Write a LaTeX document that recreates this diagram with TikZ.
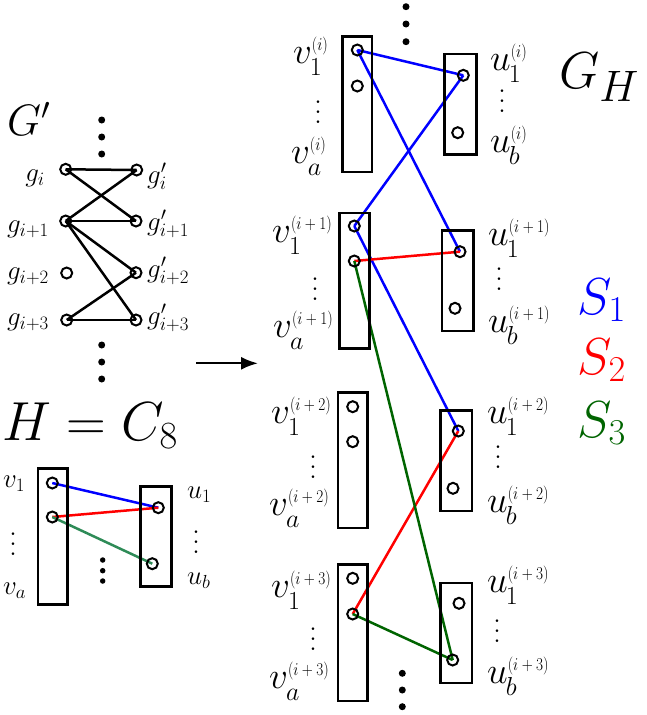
\RequirePackage{fix-cm}
\documentclass[tikz,border=0pt]{standalone}
\usepackage{graphicx}
\usetikzlibrary{arrows.meta}
\definecolor{sblue}{RGB}{0,0,255}
\definecolor{sred}{RGB}{255,0,0}
\definecolor{sgreen}{RGB}{0,100,0}
\definecolor{hgreen}{RGB}{46,139,87}
\newcommand\fs[1]{\fontsize{#1}{#1}\selectfont}
% label: letter, subscript, superscript index
\newcommand\glab[3]{$#1$\kern-2pt\rlap{\raisebox{-12pt}{\fs{26}$#2$}}\kern2pt\raisebox{13pt}{\scalebox{0.85}[1]{\fs{18}$(#3)$}}}
\newcommand\vdd{\scalebox{2.5}{\fs{10}$\vdots$}}
\pgfdeclarelayer{bg}
\pgfsetlayers{bg,main}
\tikzset{
  vtx/.style={circle, draw, line width=2pt, minimum size=11pt, inner sep=0pt, outer sep=0pt},
  bx/.style={draw, line width=2.6pt},
  ed/.style={line width=2.5pt},
  bigdot/.style={circle, fill, inner sep=0pt, minimum size=7pt},
  smalldot/.style={circle, fill, inner sep=0pt, minimum size=5.5pt},
  lblL/.style={anchor=base east, inner sep=0pt, font=\fs{37}},
  lblR/.style={anchor=base west, inner sep=0pt, font=\fs{37}},
  glL/.style={anchor=base east, inner sep=0pt, font=\fs{27}},
  glR/.style={anchor=base west, inner sep=0pt, font=\fs{27}},
  hl/.style={anchor=base west, inner sep=0pt, font=\fs{27}},
  vd/.style={anchor=south, inner sep=0pt},
}
\begin{document}
\begin{tikzpicture}[x=1pt,y=-1pt]
\useasboundingbox (0,0) rectangle (647,715);

% ---------- G' ----------
\node[anchor=base west, inner sep=0pt, font=\fs{44}] (Gp) at (7,135) {$G'$};
\node[bigdot] (gd1) at (101.7,120) {};
\node[bigdot] (gd2) at (101.7,137) {};
\node[bigdot] (gd3) at (101.7,154) {};
\node[bigdot] (gd4) at (101.7,345) {};
\node[bigdot] (gd5) at (101.7,362) {};
\node[bigdot] (gd6) at (101.7,379) {};

\node[vtx] (g0) at (65.7,169.3) {};
\node[vtx] (g1) at (65.7,221) {};
\node[vtx] (g2) at (66.7,273) {};
\node[vtx] (g3) at (66.7,320) {};
\node[vtx] (p0) at (136.7,170) {};
\node[vtx] (p1) at (136,221) {};
\node[vtx] (p2) at (136,272.7) {};
\node[vtx] (p3) at (136,320) {};
\begin{pgfonlayer}{bg}
\draw[ed] (g0.center) -- (p0.center);
\draw[ed] (g0.center) -- (p1.center);
\draw[ed] (g1.center) -- (p0.center);
\draw[ed] (g1.center) -- (p1.center);
\draw[ed] (g1.center) -- (p2.center);
\draw[ed] (g1.center) -- (p3.center);
\draw[ed] (g3.center) -- (p2.center);
\draw[ed] (g3.center) -- (p3.center);
\end{pgfonlayer}
\node[glL] (lg0) at (45,181) {$g_i$};
\node[glL] (lg1) at (49,232) {$g_{i+1}$};
\node[glL] (lg2) at (49,279) {$g_{i+2}$};
\node[glL] (lg3) at (49,325) {$g_{i+3}$};
\node[glR] (lp0) at (147,183) {$g'_i$};
\node[glR] (lp1) at (147,230) {$g'_{i+1}$};
\node[glR] (lp2) at (147,277) {$g'_{i+2}$};
\node[glR] (lp3) at (147,324) {$g'_{i+3}$};

% ---------- H = C8 ----------
\node[anchor=base west, inner sep=0pt, font=\fs{55}] (HC) at (2,440) {$H=C_8$};
\draw[bx] (38,468.6) rectangle (67.7,604.4);
\draw[bx] (140.3,486.6) rectangle (171.7,586.7);
\node[vtx] (hv1) at (52.3,483) {};
\node[vtx] (hv2) at (52.3,517) {};
\node[vtx] (hu1) at (158.3,507.7) {};
\node[vtx] (hub) at (152.3,563.7) {};
\begin{pgfonlayer}{bg}
\draw[ed, sblue] (hv1.center) -- (hu1.center);
\draw[ed, sred] (hv2.center) -- (hu1.center);
\draw[ed, hgreen] (hv2.center) -- (hub.center);
\end{pgfonlayer}
\node[hl] (lhv1) at (3,487) {$v_1$};
\node[hl] (lhva) at (3,594) {$v_a$};
\node[hl] (lhu1) at (187,498) {$u_1$};
\node[hl] (lhub) at (187,584) {$u_b$};
\node[vd] (hvd1) at (13,556) {\vdd};
\node[vd] (hvd2) at (196,554) {\vdd};
\node[smalldot] (hd1) at (102.7,560) {};
\node[smalldot] (hd2) at (102.7,570.7) {};
\node[smalldot] (hd3) at (102.7,581) {};

% ---------- arrow ----------
\coordinate (ar1) at (196,363.3);
\coordinate (ar2) at (258,363.3);
\draw[line width=2.3pt, -{Latex[length=17pt,width=13pt]}] (ar1) -- (ar2);

% ---------- G_H ----------
\node[anchor=base west, inner sep=0pt] (GH) at (559,88)
  {\fs{52}$G$\raisebox{-13pt}{\fs{44}$H$}};
\node[anchor=base west, inner sep=0pt, font=\fs{52}, text=sblue] (S1) at (577,314) {$S_1$};
\node[anchor=base west, inner sep=0pt, font=\fs{52}, text=sred] (S2) at (577,374) {$S_2$};
\node[anchor=base west, inner sep=0pt, font=\fs{52}, text=sgreen] (S3) at (577,437) {$S_3$};

\node[bigdot] (td1) at (406,6.7) {};
\node[bigdot] (td2) at (406,24) {};
\node[bigdot] (td3) at (406,41.7) {};
\node[bigdot] (bd1) at (402.3,673.3) {};
\node[bigdot] (bd2) at (402.3,690) {};
\node[bigdot] (bd3) at (402.3,706.7) {};

% boxes
\draw[bx] (342.3,36.3) rectangle (372,172);
\draw[bx] (444.6,54) rectangle (476.4,154.4);
\draw[bx] (339.6,213) rectangle (369.4,348.7);
\draw[bx] (442,230.6) rectangle (473.4,331);
\draw[bx] (338,392.3) rectangle (367.7,528);
\draw[bx] (440.3,410.6) rectangle (472,511);
\draw[bx] (338,564.6) rectangle (367.7,701);
\draw[bx] (440.6,583) rectangle (472,683);

% vertices
\node[vtx] (v1i) at (357.3,50) {};
\node[vtx] (v2i) at (357.3,86) {};
\node[vtx] (u1i) at (463.3,75.3) {};
\node[vtx] (ubi) at (457.7,132.7) {};
\node[vtx] (v1j) at (354.3,226) {};
\node[vtx] (v2j) at (354.3,261) {};
\node[vtx] (u1j) at (460,251.7) {};
\node[vtx] (ubj) at (455,308.3) {};
\node[vtx] (v1k) at (352.7,406.7) {};
\node[vtx] (v2k) at (352.7,441.7) {};
\node[vtx] (u1k) at (458.3,431) {};
\node[vtx] (ubk) at (453,488.3) {};
\node[vtx] (v1l) at (352.7,578.3) {};
\node[vtx] (v2l) at (352.7,614) {};
\node[vtx] (u1l) at (459,603.3) {};
\node[vtx] (ubl) at (452.7,660) {};

\begin{pgfonlayer}{bg}
\draw[ed, sblue] (v1i.center) -- (u1i.center);
\draw[ed, sblue] (v1i.center) -- (u1j.center);
\draw[ed, sblue] (u1i.center) -- (v1j.center);
\draw[ed, sblue] (v1j.center) -- (u1k.center);
\draw[ed, sred] (v2j.center) -- (u1j.center);
\draw[ed, sred] (u1k.center) -- (v2l.center);
\draw[ed, sgreen] (v2j.center) -- (ubl.center);
\draw[ed, sgreen] (v2l.center) -- (ubl.center);
\end{pgfonlayer}

% labels
\node[lblL] (lv1i) at (328,63) {\glab{v}{1}{i}};
\node[lblL] (lvai) at (326,163) {\glab{v}{a}{i}};
\node[lblR] (lu1i) at (490,70) {\glab{u}{1}{i}};
\node[lblR] (lubi) at (490,152) {\glab{u}{b}{i}};
\node[lblL] (lv1j) at (332,242) {\glab{v}{1}{i+1}};
\node[lblL] (lvaj) at (333,337) {\glab{v}{a}{i+1}};
\node[lblR] (lu1j) at (488,245) {\glab{u}{1}{i+1}};
\node[lblR] (lubj) at (488,332) {\glab{u}{b}{i+1}};
\node[lblL] (lv1k) at (331,423) {\glab{v}{1}{i+2}};
\node[lblL] (lvak) at (329,515) {\glab{v}{a}{i+2}};
\node[lblR] (lu1k) at (487,423) {\glab{u}{1}{i+2}};
\node[lblR] (lubk) at (487,512) {\glab{u}{b}{i+2}};
\node[lblL] (lv1l) at (331,597) {\glab{v}{1}{i+3}};
\node[lblL] (lval) at (329,688) {\glab{v}{a}{i+3}};
\node[lblR] (lu1l) at (487,592) {\glab{u}{1}{i+3}};
\node[lblR] (lubl) at (487,683) {\glab{u}{b}{i+3}};

\node[vd] (vdLi) at (318,124) {\vdd};
\node[vd] (vdRi) at (502,113) {\vdd};
\node[vd] (vdLj) at (315,301) {\vdd};
\node[vd] (vdRj) at (499,291) {\vdd};
\node[vd] (vdLk) at (313,479) {\vdd};
\node[vd] (vdRk) at (498,469) {\vdd};
\node[vd] (vdLl) at (313,651) {\vdd};
\node[vd] (vdRl) at (497,643) {\vdd};
\end{tikzpicture}
\end{document}
